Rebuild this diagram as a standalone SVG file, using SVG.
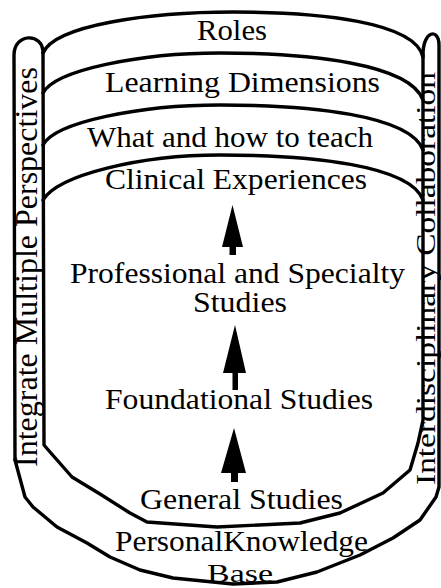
<svg xmlns="http://www.w3.org/2000/svg" width="441" height="588" viewBox="0 0 441 588">
<style>
.ln{fill:none;stroke:#000;stroke-width:3.4;stroke-linejoin:round;stroke-linecap:round}
.t{font-family:"Liberation Serif","Times New Roman",serif;font-size:29px;fill:#000}
.rt{font-family:"Liberation Serif","Times New Roman",serif;font-size:31px;fill:#000}
.ar{fill:#000;stroke:none}
</style>
<rect width="441" height="588" fill="#fff"/>
<g id="frame">
<path class="ln" d="M15,460 L14,55 C14,33 43,32 43,53"/>
<path class="ln" d="M423,55 C423,30 439,28 439,45 L439,487 L436,497 L420,520 L393,538 L360,555 L317,572 L277,582 L233,584 L173,578 L140,570 L110,557 L87,543 L57,527 L33,507 L25,497 L15,460"/>
<path class="ln" d="M43,53 L44,445 L50,452 L72,477 L100,494 L130,513 L147,522 L217,527 L300,523 L340,513 L383,493 L410,470 L418,443 L423,420 L423,55"/>
</g>
<g id="side-left">
<text class="rt" transform="translate(37,467) rotate(-90)" textLength="400" lengthAdjust="spacingAndGlyphs">Integrate Multiple Perspectives</text>
</g>
<g id="side-right">
<text class="rt" style="font-size:28px" transform="translate(435,485) rotate(-90)" textLength="413" lengthAdjust="spacingAndGlyphs">Interdisciplinary Collaboration</text>
</g>
<g id="roles">
<path class="ln" d="M43,53 C55,25 150,12 233,12 C320,12 415,22 423,57"/>
<text class="t" x="197" y="40" textLength="70" lengthAdjust="spacingAndGlyphs">Roles</text>
</g>
<g id="learning-dimensions">
<path class="ln" d="M43,93 C55,70 140,53 220,53 C310,53 410,64 423,100"/>
<text class="t" x="105" y="92" textLength="275" lengthAdjust="spacingAndGlyphs">Learning Dimensions</text>
</g>
<g id="what-how">
<path class="ln" d="M43,145 C55,122 140,105 220,105 C310,105 410,115 423,150"/>
<text class="t" x="87" y="147" textLength="286" lengthAdjust="spacingAndGlyphs">What and how to teach</text>
</g>
<g id="clinical">
<path class="ln" d="M43,200 C58,175 140,155 220,155 C310,155 410,165 423,200"/>
<text class="t" x="105" y="189" textLength="262" lengthAdjust="spacingAndGlyphs">Clinical Experiences</text>
</g>
<g id="professional">
<text class="t" x="70" y="283" textLength="335" lengthAdjust="spacingAndGlyphs">Professional and Specialty</text>
<text class="t" x="193" y="312" textLength="94" lengthAdjust="spacingAndGlyphs">Studies</text>
</g>
<g id="foundational">
<text class="t" x="105" y="409" textLength="268" lengthAdjust="spacingAndGlyphs">Foundational Studies</text>
</g>
<g id="general">
<text class="t" x="140" y="509" textLength="203" lengthAdjust="spacingAndGlyphs">General Studies</text>
</g>
<g id="personal">
<text class="t" x="115" y="551" textLength="253" lengthAdjust="spacingAndGlyphs">PersonalKnowledge</text>
<text class="t" style="font-size:26px" x="207" y="582" textLength="66" lengthAdjust="spacingAndGlyphs">Base</text>
</g>
<g id="connectors">
<path class="ar" d="M232.5,205 L243,247 L236,247 L236,255 L229.5,255 L229.5,247 L222,247 Z"/>
<path class="ar" d="M235,325 L246,373 L238,373 L238,390 L232.5,390 L232.5,373 L223,373 Z"/>
<path class="ar" d="M234,428 L246,473 L238,473 L238,482 L231,482 L231,473 L221,473 Z"/>
</g>
</svg>
